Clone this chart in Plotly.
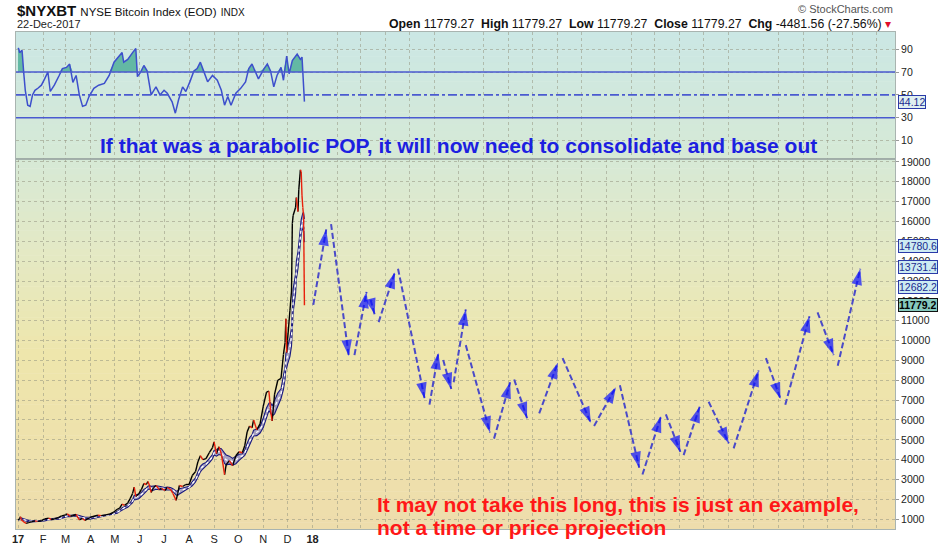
import plotly.graph_objects as go
import pandas as pd
import numpy as np

# ---------------- data ----------------
price_dates = ["2017-01-01","2017-01-03","2017-01-04","2017-01-05","2017-01-07","2017-01-11","2017-01-14","2017-01-18",
    "2017-01-22","2017-01-25","2017-01-30","2017-02-03","2017-02-08","2017-02-11","2017-02-15","2017-02-20","2017-02-24",
    "2017-03-01","2017-03-03","2017-03-07","2017-03-10","2017-03-14","2017-03-18","2017-03-22","2017-03-25","2017-03-31",
    "2017-04-04","2017-04-10","2017-04-14","2017-04-20","2017-04-25","2017-04-29","2017-05-04","2017-05-07","2017-05-10",
    "2017-05-13","2017-05-17","2017-05-20","2017-05-23","2017-05-25","2017-05-27","2017-05-31","2017-06-03","2017-06-06",
    "2017-06-09","2017-06-11","2017-06-13","2017-06-15","2017-06-18","2017-06-21","2017-06-25","2017-06-28","2017-07-02",
    "2017-07-05","2017-07-09","2017-07-12","2017-07-16","2017-07-18","2017-07-20","2017-07-24","2017-07-28","2017-08-01",
    "2017-08-05","2017-08-09","2017-08-12","2017-08-15","2017-08-18","2017-08-22","2017-08-26","2017-08-30","2017-09-01",
    "2017-09-04","2017-09-07","2017-09-10","2017-09-14","2017-09-16","2017-09-20","2017-09-24","2017-09-28","2017-10-02",
    "2017-10-06","2017-10-09","2017-10-12","2017-10-15","2017-10-18","2017-10-20","2017-10-24","2017-10-28","2017-11-01",
    "2017-11-05","2017-11-08","2017-11-10","2017-11-12","2017-11-15","2017-11-19","2017-11-23","2017-11-26","2017-11-28",
    "2017-11-29","2017-11-30","2017-12-01","2017-12-04","2017-12-06","2017-12-07","2017-12-08","2017-12-11","2017-12-12",
    "2017-12-14","2017-12-15","2017-12-17","2017-12-18","2017-12-19","2017-12-20","2017-12-21","2017-12-22"]
price_close = [960,1020,1130,990,900,790,830,880,920,890,920,1020,1050,990,1010,1080,1170,
    1220,1270,1150,1190,1240,970,1040,940,1080,
    1140,1200,1180,1220,1270,1340,1500,1560,1760,
    1700,1820,2040,2300,2620,2150,2300,2500,2800,
    2750,2900,2700,2350,2600,2700,2500,2550,2450,
    2600,2500,2300,1950,2300,2700,2650,2750,2750,
    3200,3400,3900,4200,4000,4050,4350,4600,4900,
    4300,4650,4300,3250,3750,3950,3700,4200,4400,
    4350,4700,5400,5700,5600,6000,5500,5800,6700,
    7400,7450,6500,5950,7300,8000,8100,9300,9900,
    11100,9400,10000,11500,12500,15900,16300,16700,17200,
    16500,17600,18600,18500,17300,16700,16261,11779.27]

rsi_dates = ["2017-01-01","2017-01-02","2017-01-03","2017-01-06","2017-01-08","2017-01-10","2017-01-13","2017-01-16",
    "2017-01-19","2017-01-22","2017-01-26","2017-01-30","2017-02-03","2017-02-07","2017-02-10","2017-02-15","2017-02-21",
    "2017-02-25","2017-03-02","2017-03-06","2017-03-10","2017-03-14","2017-03-18","2017-03-22","2017-03-26","2017-03-30",
    "2017-04-05","2017-04-11","2017-04-18","2017-04-24","2017-04-30","2017-05-06","2017-05-10","2017-05-12","2017-05-17",
    "2017-05-23","2017-05-27","2017-05-29","2017-06-02","2017-06-06","2017-06-10","2017-06-15","2017-06-21","2017-06-26",
    "2017-07-01","2017-07-05","2017-07-11","2017-07-15","2017-07-19","2017-07-24","2017-07-28","2017-08-02","2017-08-07",
    "2017-08-11","2017-08-15","2017-08-19","2017-08-24","2017-08-30","2017-09-05","2017-09-10","2017-09-14","2017-09-18",
    "2017-09-22","2017-09-28","2017-10-04","2017-10-10","2017-10-14","2017-10-18","2017-10-22","2017-10-26","2017-11-02",
    "2017-11-06","2017-11-10","2017-11-14","2017-11-18","2017-11-23","2017-11-26","2017-11-30","2017-12-03","2017-12-07",
    "2017-12-13","2017-12-17","2017-12-19","2017-12-20","2017-12-22"]
rsi_values = [91,90,87,89,70,54,41,40,50,54,56,58.5,64,70,53,58.5,67,
    73,74,77,61,67,50,40,41,48.6,
    55.7,58.5,60,67,78.6,84,87,78.6,81,
    87,90.5,66,70,75.7,71,50,57,50,
    54,51.4,44,34,45.7,57,53,61.4,71,
    73,78.6,71,61.4,67,62.8,54,41,48.6,
    41,51.4,55.7,61.4,73,77,70,64,73,
    77,71,57,67,74,62.8,84,68.5,80,
    85.7,81,83,67,44.12]

# hypothetical projection path (each segment is one dashed arrow)
seg_from_date = ["2018-01-02","2018-01-24","2018-02-22","2018-03-14","2018-03-24","2018-04-17","2018-05-26","2018-06-12",
    "2018-06-25","2018-07-10","2018-08-14","2018-09-08","2018-10-09","2018-11-07","2018-12-16","2019-01-17","2019-02-14",
    "2019-03-15","2019-04-06","2019-05-07","2019-06-07","2019-07-17","2019-08-10","2019-09-19","2019-10-14"]
seg_from_value = [11800,15870,9270,12060,10930,13620,6770,9020,7900,9770,5060,8040,6330,9120,5700,7750,3250,
    6280,4230,6920,4570,9120,6770,11420,8730]
seg_to_date = ["2018-01-18","2018-02-15","2018-03-09","2018-03-19","2018-04-13","2018-05-20","2018-06-06","2018-06-22",
    "2018-07-10","2018-08-09","2018-09-03","2018-09-24","2018-11-01","2018-12-12","2019-01-12","2019-02-10","2019-03-09",
    "2019-04-02","2019-04-26","2019-06-01","2019-07-08","2019-08-04","2019-09-09","2019-10-09","2019-11-11"]
seg_to_value = [15600,9220,12450,11320,13430,7070,9370,7560,11570,5370,7900,6090,8880,5860,7650,3590,6190,
    4390,6680,4820,8490,7070,11220,9270,13620]

channel_last = [14780.6, 13731.4, 12682.2]
last_close = 11779.27
last_rsi = 44.12
price_ticks = list(range(1000, 19001, 1000))
rsi_ticks = [10, 30, 50, 70, 90]
month_ticks = ["2017-01-01","2017-02-01","2017-03-01","2017-04-01","2017-05-01","2017-06-01","2017-07-01",
    "2017-08-01","2017-09-01","2017-10-01","2017-11-01","2017-12-01","2018-01-01"]
month_labels = ["<b>17</b>","F","M","A","M","J","J","A","S","O","N","D","<b>18</b>"]

# ---------------- layout geometry (pixels) ----------------
W, H = 942, 557
PL, PR, PT, PB = 14, 895, 32, 541
SPLIT = 162
FONT = "Arial, 'Liberation Sans', sans-serif"

def px(x):
    return (x - PL) / (PR - PL)

def py(y):
    return (PB - y) / (PB - PT)

price_dom = [0, py(SPLIT)]
rsi_dom = [py(SPLIT), 1]

fig = go.Figure()

# ---- background gradient ----
stops = [(32, (203, 231, 228)), (162, (214, 233, 214)), (260, (228, 233, 196)),
         (360, (238, 230, 172)), (541, (238, 221, 172))]

def col_at(y):
    for (y0, c0), (y1, c1) in zip(stops[:-1], stops[1:]):
        if y0 <= y <= y1:
            t = (y - y0) / (y1 - y0)
            return "rgb(%d,%d,%d)" % tuple(round(a + (b - a) * t) for a, b in zip(c0, c1))
    return "rgb(%d,%d,%d)" % stops[-1][1]

nb = 80
for i in range(nb):
    y0 = PT + (PB - PT) * i / nb
    y1 = PT + (PB - PT) * (i + 1) / nb
    fig.add_shape(type="rect", xref="paper", yref="paper", x0=0, x1=1, y0=py(y1), y1=py(y0) + 0.001,
                  fillcolor=col_at((y0 + y1) / 2), line_width=0, layer="below")

# ---- price channel (EMA +/- average change) ----
s = pd.Series(price_close, index=pd.to_datetime(price_dates), dtype=float)
mid = s.ewm(halflife="7 days", times=s.index).mean()
rng = 0.45 * s.diff().abs().fillna(0).ewm(halflife="6 days", times=s.index).mean()
upper = mid + rng
lower = mid - rng

fig.add_trace(go.Scatter(x=s.index, y=lower, mode="lines", line=dict(color="#1a1a80", width=1.1),
                         hoverinfo="skip", showlegend=False))
fig.add_trace(go.Scatter(x=s.index, y=upper, mode="lines", line=dict(color="#1a1a80", width=1.1),
                         fill="tonexty", fillcolor="rgba(110,110,210,0.55)", hoverinfo="skip", showlegend=False))
fig.add_trace(go.Scatter(x=s.index, y=mid, mode="lines", line=dict(color="white", width=1.3, dash="dot"),
                         hoverinfo="skip", showlegend=False))

# ---- price line: black rising, red falling ----
up_x, up_y, dn_x, dn_y = [], [], [], []
for i in range(1, len(price_close)):
    tx, ty = (up_x, up_y) if price_close[i] >= price_close[i - 1] else (dn_x, dn_y)
    tx += [price_dates[i - 1], price_dates[i], None]
    ty += [price_close[i - 1], price_close[i], None]
fig.add_trace(go.Scatter(x=up_x, y=up_y, mode="lines", line=dict(color="black", width=1.4),
                         connectgaps=False, showlegend=False))
fig.add_trace(go.Scatter(x=dn_x, y=dn_y, mode="lines", line=dict(color="#e8200c", width=1.4),
                         connectgaps=False, showlegend=False))

# ---- projection arrows ----
ax_, ay_, sizes = [], [], []
for a, b, c, d in zip(seg_from_date, seg_from_value, seg_to_date, seg_to_value):
    ax_ += [a, c, None]
    ay_ += [b, d, None]
    sizes += [0, 17, 0]
fig.add_trace(go.Scatter(x=ax_, y=ay_, mode="lines", connectgaps=False,
                         line=dict(color="#4a4ac8", width=2, dash="6px,3px"), showlegend=False))
fig.add_trace(go.Scatter(x=ax_, y=ay_, mode="markers",
                         marker=dict(symbol="arrow", angleref="previous", size=sizes, color="#0a10ff",
                                     line=dict(width=0)), showlegend=False))

# ---- RSI panel ----
fig.add_trace(go.Scatter(x=rsi_dates, y=[70] * len(rsi_dates), mode="lines", line=dict(width=0),
                         xaxis="x2", yaxis="y2", hoverinfo="skip", showlegend=False))
fig.add_trace(go.Scatter(x=rsi_dates, y=np.maximum(np.array(rsi_values), 70), mode="lines", line=dict(width=0),
                         fill="tonexty", fillcolor="#63b8a4", xaxis="x2", yaxis="y2",
                         hoverinfo="skip", showlegend=False))
for lvl, dsh in [(70, "solid"), (30, "solid"), (50, "dashdot")]:
    fig.add_shape(type="line", xref="x2 domain", yref="y2", x0=0, x1=1, y0=lvl, y1=lvl,
                  line=dict(color="#4a5ad0", width=1.6, dash=dsh))
fig.add_trace(go.Scatter(x=rsi_dates, y=rsi_values, mode="lines", line=dict(color="#3d4fcc", width=1.5),
                         xaxis="x2", yaxis="y2", showlegend=False))

# panel separator
fig.add_shape(type="line", xref="paper", yref="paper", x0=0, x1=1, y0=py(SPLIT), y1=py(SPLIT),
              line=dict(color="#9aa8a4", width=1))

# ---- axes ----
grid = dict(gridcolor="rgba(150,150,130,0.55)", griddash="dot", gridwidth=1)
xrange = ["2016-12-29 12:00", "2019-12-24"]
fig.update_layout(
    width=W, height=H,
    margin=dict(l=PL, r=W - PR, t=PT, b=H - PB),
    paper_bgcolor="white", plot_bgcolor="rgba(0,0,0,0)",
    font=dict(family=FONT, color="#222"),
    xaxis=dict(type="date", range=xrange, domain=[0, 1], anchor="y",
               tickmode="array", tickvals=month_ticks, ticktext=month_labels,
               tickfont=dict(size=11, color="#222"), ticks="", showgrid=False,
               minor=dict(dtick="M1", tick0="2017-01-01", showgrid=True, **grid),
               showline=True, linecolor="#a9b4b0", mirror=True, zeroline=False),
    xaxis2=dict(type="date", range=xrange, anchor="y2", matches="x", showticklabels=False,
                showgrid=False, minor=dict(dtick="M1", tick0="2017-01-01", showgrid=True, **grid),
                showline=True, linecolor="#a9b4b0", mirror=True),
    yaxis=dict(domain=price_dom, range=[508, 19150], side="right", tickmode="array", tickvals=price_ticks,
               tickformat="d", tickfont=dict(size=10.5, color="#222"), ticks="outside", ticklen=3,
               tickcolor="#999", showgrid=True, **grid, zeroline=False, showline=True,
               linecolor="#a9b4b0", mirror=True),
    yaxis2=dict(domain=rsi_dom, range=[-6, 105], side="right", tickmode="array", tickvals=rsi_ticks,
                tickfont=dict(size=10.5, color="#222"), ticks="outside", ticklen=3, tickcolor="#999",
                showgrid=True, **grid, zeroline=False, showline=True, linecolor="#a9b4b0", mirror=True),
)

# ---- annotations ----
ann = []
ann.append(dict(xref="paper", yref="paper", x=px(13), y=py(10), xanchor="left", yanchor="middle",
                text="<b>$NYXBT</b> <span style='font-size:11.5px'>NYSE Bitcoin Index (EOD)</span> "
                     "<span style='font-size:10px'>INDX</span>",
                font=dict(size=15, color="#111"), showarrow=False))
ann.append(dict(xref="paper", yref="paper", x=px(13), y=py(24), xanchor="left", yanchor="middle",
                text="22-Dec-2017", font=dict(size=11, color="#222"), showarrow=False))
ann.append(dict(xref="paper", yref="paper", x=px(895), y=py(8), xanchor="right", yanchor="middle",
                text="© StockCharts.com", font=dict(size=11, color="#555"), showarrow=False))
ann.append(dict(xref="paper", yref="paper", x=px(893), y=py(24), xanchor="right", yanchor="middle",
                text="<b>Open</b> 11779.27  <b>High</b> 11779.27  <b>Low</b> 11779.27  <b>Close</b> 11779.27  "
                     "<b>Chg</b> -4481.56 (-27.56%) <span style='color:#e0102a'>▾</span>",
                font=dict(size=12.3, color="#111"), showarrow=False))
ann.append(dict(xref="paper", yref="paper", x=px(458), y=py(148), xanchor="center", yanchor="middle",
                text="<b>If that was a parabolic POP, it will now need to consolidate and base out</b>",
                font=dict(size=21, color="#1c20e0"), showarrow=False))
ann.append(dict(xref="paper", yref="paper", x=px(374), y=py(516), xanchor="left", yanchor="middle",
                text="<b>It may not take this long, this is just an example,</b>",
                font=dict(size=21, color="#ff1818"), showarrow=False))
ann.append(dict(xref="paper", yref="paper", x=px(374), y=py(539), xanchor="left", yanchor="middle",
                text="<b>not a time or price projection</b>",
                font=dict(size=21, color="#ff1818"), showarrow=False))

for v in channel_last:
    ann.append(dict(xref="paper", yref="y", x=1, y=v, xanchor="left", yanchor="middle", xshift=3,
                    text="%.1f" % v, font=dict(size=10.5, color="#1a2a90"), bgcolor="#cdebf2",
                    bordercolor="#2a3aa8", borderwidth=1, borderpad=0, showarrow=False))
ann.append(dict(xref="paper", yref="y", x=1, y=last_close, xanchor="left", yanchor="middle", xshift=3,
                text="<b>%.1f</b>" % (int(last_close * 10) / 10), font=dict(size=10.5, color="#000"),
                bgcolor="#86c9bd", bordercolor="#111", borderwidth=1, borderpad=0, showarrow=False))
ann.append(dict(xref="paper", yref="y2", x=1, y=last_rsi, xanchor="left", yanchor="middle", xshift=3,
                text="%.2f" % last_rsi, font=dict(size=10.5, color="#1a2a90"), bgcolor="#dff0f0",
                bordercolor="#2a3aa8", borderwidth=1, borderpad=0, showarrow=False))
fig.update_layout(annotations=ann)

fig.write_html("out.html", config={"displayModeBar": False},
               post_script="document.body.style.margin='0';")
